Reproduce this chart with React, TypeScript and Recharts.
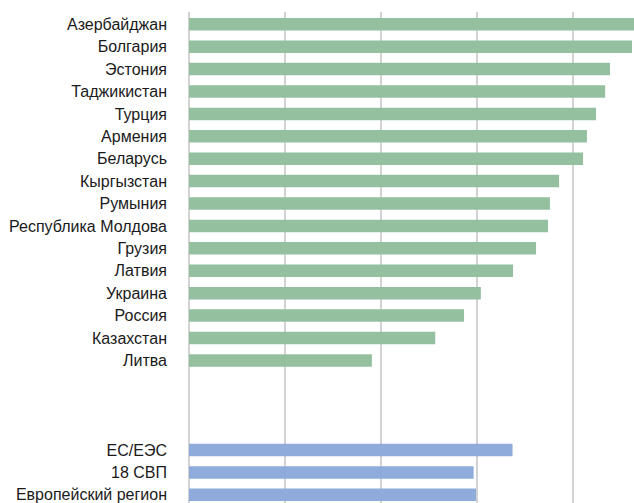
import React from "react";
import { BarChart, Bar, XAxis, YAxis, CartesianGrid, Cell } from "recharts";

// Countries (green bars), top to bottom
const countries = [
  "Азербайджан",
  "Болгария",
  "Эстония",
  "Таджикистан",
  "Турция",
  "Армения",
  "Беларусь",
  "Кыргызстан",
  "Румыния",
  "Республика Молдова",
  "Грузия",
  "Латвия",
  "Украина",
  "Россия",
  "Казахстан",
  "Литва",
];
const countryValues = [
  93.5, 92.3, 87.7, 86.7, 84.8, 82.9, 82.1, 77.1, 75.2, 74.8, 72.3, 67.5, 60.8, 57.3,
  51.3, 38.1,
];

// Regional aggregates (blue bars)
const regions = ["ЕС/ЕЭС", "18 СВП", "Европейский регион"];
const regionValues = [67.4, 59.3, 59.8];

// Empty rows separating the two groups
const spacerCount = 3;

const xTicks = [0, 20, 40, 60, 80, 100];

const GREEN = "#94c0a0";
const BLUE = "#8eabdb";

type Row = { key: string; label: string; value: number | null; group: string };

const rows: Row[] = [
  ...countries.map((c, i) => ({ key: c, label: c, value: countryValues[i], group: "country" })),
  ...Array.from({ length: spacerCount }, (_, i) => ({
    key: `spacer-${i}`,
    label: "",
    value: null,
    group: "spacer",
  })),
  ...regions.map((r, i) => ({ key: r, label: r, value: regionValues[i], group: "region" })),
];

const labelByKey: Record<string, string> = Object.fromEntries(rows.map((r) => [r.key, r.label]));

export default function App() {
  return (
    <div
      style={{
        position: "absolute",
        left: 0,
        top: 0,
        width: 634,
        height: 503,
        overflow: "hidden",
        background: "#ffffff",
      }}
    >
      <BarChart
        width={700}
        height={506}
        data={rows}
        layout="vertical"
        margin={{ top: 12, right: 31, bottom: 0, left: 0 }}
        barSize={12.5}
      >
        <CartesianGrid horizontal={false} vertical stroke="#a6a6a6" strokeWidth={1} />
        <XAxis type="number" dataKey="value" domain={[0, 100]} ticks={xTicks} hide />
        <YAxis
          type="category"
          dataKey="key"
          width={189}
          axisLine={false}
          tickLine={false}
          tickSize={0}
          tickMargin={22}
          interval={0}
          padding={{ top: 1, bottom: 0 }}
          tickFormatter={(k: string) => labelByKey[k] ?? ""}
          tick={{
            fill: "#1a1a1a",
            fontSize: 16,
            fontFamily: "'Liberation Sans', Arial, Helvetica, sans-serif",
          }}
        />
        <Bar dataKey="value" isAnimationActive={false}>
          {rows.map((r) => (
            <Cell key={r.key} fill={r.group === "region" ? BLUE : GREEN} />
          ))}
        </Bar>
      </BarChart>
    </div>
  );
}
